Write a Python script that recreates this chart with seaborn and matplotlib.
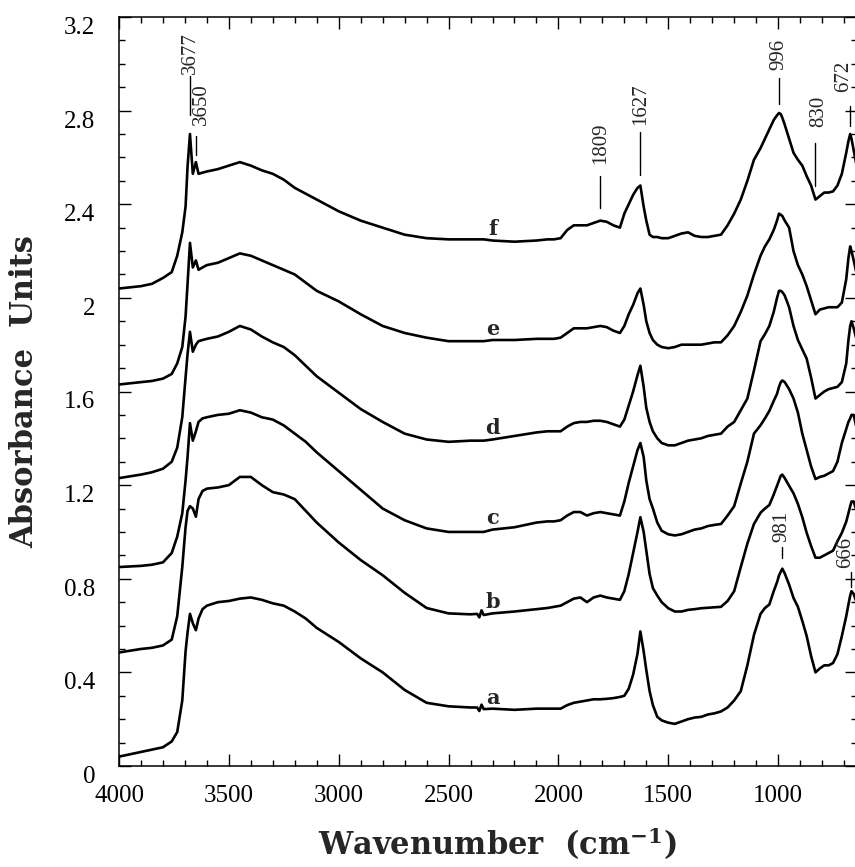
import numpy as np
import pandas as pd
import matplotlib
matplotlib.use("Agg")
import matplotlib.pyplot as plt
import seaborn as sns
from matplotlib.ticker import MultipleLocator

# Wavenumber grid (cm-1) shared by all spectra
wavenumber = [
    4000, 3900, 3850, 3800, 3760, 3735, 3712, 3697, 3688, 3677,
    3664, 3650, 3638, 3620, 3600, 3550, 3500, 3450, 3400, 3350,
    3300, 3250, 3200, 3150, 3100, 3000, 2900, 2800, 2700, 2600,
    2500, 2400, 2370, 2360, 2350, 2340, 2300, 2200, 2100, 2050,
    2020, 1990, 1960, 1930, 1900, 1870, 1840, 1809, 1780, 1750,
    1720, 1700, 1680, 1660, 1640, 1627, 1612, 1600, 1585, 1570,
    1550, 1530, 1500, 1470, 1440, 1410, 1380, 1350, 1320, 1290,
    1260, 1230, 1200, 1170, 1140, 1110, 1080, 1060, 1040, 1020,
    1005, 996, 988, 981, 970, 950, 930, 910, 890, 870,
    850, 830, 810, 790, 770, 750, 730, 710, 690, 680,
    672, 666, 656, 640,
]

spec_a = [
    0.04, 0.06, 0.07, 0.08, 0.105, 0.145, 0.28, 0.49, 0.57, 0.65,
    0.61, 0.58, 0.63, 0.67, 0.685, 0.70, 0.705, 0.715, 0.72, 0.71,
    0.695, 0.685, 0.66, 0.63, 0.59, 0.53, 0.46, 0.40, 0.325, 0.27,
    0.255, 0.25, 0.25, 0.235, 0.262, 0.243, 0.245, 0.24, 0.245, 0.245,
    0.245, 0.245, 0.26, 0.27, 0.275, 0.28, 0.285, 0.285, 0.287, 0.29,
    0.295, 0.30, 0.33, 0.39, 0.48, 0.575, 0.49, 0.41, 0.32, 0.26,
    0.21, 0.195, 0.185, 0.18, 0.19, 0.20, 0.207, 0.21, 0.22, 0.225,
    0.233, 0.25, 0.28, 0.32, 0.43, 0.56, 0.65, 0.675, 0.69, 0.747,
    0.785, 0.814, 0.83, 0.843, 0.823, 0.775, 0.718, 0.68, 0.62, 0.555,
    0.47, 0.40, 0.417, 0.43, 0.43, 0.44, 0.478, 0.555, 0.64, 0.69,
    0.728, 0.747, 0.735, 0.69,
]

spec_b = [
    0.485, 0.50, 0.505, 0.515, 0.54, 0.64, 0.85, 1.02, 1.09, 1.11,
    1.10, 1.065, 1.14, 1.175, 1.185, 1.19, 1.20, 1.235, 1.235, 1.20,
    1.17, 1.16, 1.14, 1.09, 1.04, 0.955, 0.88, 0.815, 0.74, 0.675,
    0.652, 0.648, 0.65, 0.635, 0.665, 0.645, 0.652, 0.66, 0.67, 0.675,
    0.68, 0.685, 0.70, 0.715, 0.72, 0.70, 0.72, 0.728, 0.72, 0.715,
    0.71, 0.747, 0.82, 0.91, 1.00, 1.063, 1.00, 0.92, 0.82, 0.76,
    0.728, 0.70, 0.674, 0.66, 0.66, 0.667, 0.67, 0.674, 0.676, 0.678,
    0.68, 0.705, 0.747, 0.85, 0.95, 1.034, 1.082, 1.10, 1.115, 1.16,
    1.197, 1.22, 1.24, 1.245, 1.23, 1.197, 1.165, 1.12, 1.063, 0.996,
    0.94, 0.89, 0.89, 0.90, 0.91, 0.92, 0.96, 0.996, 1.044, 1.08,
    1.11, 1.13, 1.13, 1.08,
]

spec_c = [
    0.85, 0.855, 0.86, 0.87, 0.91, 0.98, 1.08, 1.22, 1.32, 1.465,
    1.39, 1.43, 1.47, 1.485, 1.49, 1.50, 1.505, 1.52, 1.51, 1.49,
    1.48, 1.455, 1.42, 1.385, 1.34, 1.26, 1.18, 1.10, 1.05, 1.015,
    1.00, 1.00, 1.00, 1.00, 1.00, 1.00, 1.01, 1.02, 1.04, 1.045,
    1.045, 1.05, 1.07, 1.085, 1.085, 1.07, 1.08, 1.085, 1.08, 1.075,
    1.07, 1.13, 1.21, 1.28, 1.35, 1.38, 1.32, 1.22, 1.14, 1.10,
    1.04, 1.005, 0.99, 0.985, 0.99, 1.00, 1.01, 1.015, 1.025, 1.03,
    1.034, 1.07, 1.11, 1.207, 1.30, 1.42, 1.456, 1.485, 1.517, 1.56,
    1.59, 1.62, 1.64, 1.647, 1.64, 1.61, 1.57, 1.51, 1.42, 1.35,
    1.28, 1.226, 1.235, 1.24, 1.25, 1.26, 1.30, 1.38, 1.44, 1.47,
    1.485, 1.50, 1.50, 1.43,
]

spec_d = [
    1.23, 1.245, 1.255, 1.27, 1.30, 1.36, 1.49, 1.66, 1.76, 1.855,
    1.77, 1.80, 1.815, 1.82, 1.825, 1.835, 1.855, 1.88, 1.865, 1.835,
    1.81, 1.79, 1.755, 1.71, 1.665, 1.595, 1.525, 1.47, 1.42, 1.395,
    1.385, 1.39, 1.39, 1.39, 1.39, 1.39, 1.395, 1.41, 1.425, 1.43,
    1.43, 1.43, 1.45, 1.465, 1.47, 1.47, 1.475, 1.475, 1.47, 1.46,
    1.45, 1.48, 1.54, 1.60, 1.67, 1.71, 1.62, 1.53, 1.47, 1.43,
    1.40, 1.38, 1.37, 1.37, 1.38, 1.39, 1.395, 1.40, 1.41, 1.415,
    1.42, 1.45, 1.47, 1.52, 1.57, 1.69, 1.815, 1.845, 1.88, 1.94,
    2.00, 2.03, 2.03, 2.025, 2.01, 1.96, 1.88, 1.82, 1.78, 1.74,
    1.66, 1.57, 1.585, 1.60, 1.61, 1.615, 1.62, 1.64, 1.72, 1.82,
    1.88, 1.90, 1.87, 1.81,
]

spec_e = [
    1.63, 1.64, 1.645, 1.655, 1.675, 1.72, 1.79, 1.92, 2.06, 2.235,
    2.13, 2.16, 2.12, 2.13, 2.14, 2.15, 2.17, 2.19, 2.18, 2.16,
    2.14, 2.12, 2.10, 2.065, 2.03, 1.985, 1.93, 1.88, 1.85, 1.83,
    1.815, 1.815, 1.815, 1.815, 1.815, 1.815, 1.82, 1.82, 1.825, 1.825,
    1.825, 1.83, 1.85, 1.87, 1.87, 1.87, 1.875, 1.88, 1.875, 1.86,
    1.85, 1.88, 1.93, 1.97, 2.02, 2.04, 1.97, 1.90, 1.85, 1.82,
    1.80, 1.79, 1.785, 1.79, 1.80, 1.80, 1.80, 1.80, 1.805, 1.81,
    1.81, 1.84, 1.88, 1.94, 2.01, 2.10, 2.18, 2.22, 2.25, 2.29,
    2.33, 2.36, 2.355, 2.35, 2.33, 2.30, 2.20, 2.14, 2.10, 2.05,
    1.99, 1.93, 1.95, 1.955, 1.96, 1.96, 1.96, 1.98, 2.08, 2.17,
    2.22, 2.20, 2.16, 2.09,
]

spec_f = [
    2.04, 2.05, 2.06, 2.085, 2.11, 2.18, 2.28, 2.39, 2.56, 2.70,
    2.53, 2.58, 2.53, 2.535, 2.54, 2.55, 2.565, 2.58, 2.565, 2.545,
    2.53, 2.505, 2.47, 2.445, 2.42, 2.37, 2.33, 2.30, 2.27, 2.255,
    2.25, 2.25, 2.25, 2.25, 2.25, 2.25, 2.245, 2.24, 2.245, 2.25,
    2.25, 2.255, 2.29, 2.31, 2.31, 2.31, 2.32, 2.33, 2.325, 2.31,
    2.30, 2.36, 2.40, 2.44, 2.47, 2.48, 2.39, 2.33, 2.27, 2.26,
    2.26, 2.255, 2.255, 2.265, 2.275, 2.28, 2.265, 2.26, 2.26, 2.265,
    2.27, 2.31, 2.36, 2.42, 2.50, 2.59, 2.64, 2.68, 2.72, 2.76,
    2.78, 2.79, 2.785, 2.77, 2.74, 2.68, 2.62, 2.59, 2.565, 2.52,
    2.48, 2.42, 2.435, 2.45, 2.45, 2.455, 2.48, 2.53, 2.62, 2.67,
    2.70, 2.68, 2.63, 2.55,
]

sample_names = ["a", "b", "c", "d", "e", "f"]
spectra = [spec_a, spec_b, spec_c, spec_d, spec_e, spec_f]

# Band assignments: (label, wavenumber of line, line start, line end, text x, text bottom)
bands = [
    ("3677", 3677, 2.78, 2.95, 3677, 2.955),
    ("3650", 3650, 2.61, 2.69, 3627, 2.74),
    ("1809", 1809, 2.385, 2.52, 1809, 2.57),
    ("1627", 1627, 2.525, 2.71, 1627, 2.74),
    ("996", 996, 2.83, 2.94, 996, 2.975),
    ("830", 830, 2.48, 2.66, 816, 2.73),
    ("672", 674, 2.735, 2.82, 700, 2.88),
    ("981", 981, 0.89, 0.935, 985, 0.955),
    ("666", 668, 0.765, 0.83, 692, 0.845),
]

y_ticks = [0, 0.4, 0.8, 1.2, 1.6, 2.0, 2.4, 2.8, 3.2]
y_tick_labels = ["0", "0.4", "0.8", "1.2", "1.6", "2", "2.4", "2.8", "3.2"]
x_ticks = [4000, 3500, 3000, 2500, 2000, 1500, 1000]
x_tick_labels = ["4000", "3500", "3000", "2500", "2000", "1500", "1000"]

sns.set_style("ticks")
plt.rcParams["font.family"] = ["Liberation Serif", "DejaVu Serif"]
plt.rcParams["axes.linewidth"] = 1.1
plt.rcParams["mathtext.fontset"] = "dejavuserif"

W, H = 855, 867
fig = plt.figure(figsize=(W / 100, H / 100), dpi=100)
ax = fig.add_axes([119 / W, 101 / H, 738 / W, 749 / H])

df = pd.DataFrame({
    "wavenumber": np.tile(wavenumber, len(sample_names)),
    "absorbance": np.concatenate(spectra),
    "sample": np.repeat(sample_names, len(wavenumber)),
})

sns.lineplot(data=df, x="wavenumber", y="absorbance", hue="sample",
             palette={s: "black" for s in sample_names}, estimator=None,
             legend=False, linewidth=1.9, ax=ax)
for ln in ax.lines:
    ln.set_solid_joinstyle("round")
    ln.set_solid_capstyle("round")

ax.set_xlim(4000, 641)
ax.set_ylim(0, 3.2)
ax.set_xticks(x_ticks)
ax.set_xticklabels(x_tick_labels)
ax.xaxis.set_minor_locator(MultipleLocator(100))
ax.set_yticks(y_ticks)
ax.set_yticklabels(y_tick_labels, va="top")
ax.yaxis.set_minor_locator(MultipleLocator(0.1))
ax.tick_params(which="both", direction="in", top=True, right=True,
               width=1.0, colors="black")
ax.tick_params(which="major", length=8.5)
ax.tick_params(which="minor", length=4.5)
ax.tick_params(axis="x", labelsize=18, pad=14)
ax.tick_params(axis="y", labelsize=18, pad=17)
ax.set_xlabel("")
ax.set_ylabel("")
for sp in ax.spines.values():
    sp.set_color("black")

# Sample letters sitting just above each trace
label_x = 2300
idx = wavenumber.index(label_x)
for name, spec in zip(sample_names, spectra):
    ax.text(label_x, spec[idx] + 0.022, name, ha="center", va="baseline",
            fontsize=15, fontweight="bold", family="DejaVu Serif")

# Band position markers
for text, xl, y0, y1, xt, yt in bands:
    ax.plot([xl, xl], [y0, y1], color="black", lw=1.0)
    ax.text(xt, yt, text, rotation=90, ha="center", va="bottom",
            fontsize=15, family="Liberation Serif")

fig.text(25 / W, 1 - 392 / H, "Absorbance  Units", rotation=90,
         ha="center", va="center", fontsize=22, fontweight="bold",
         family="DejaVu Serif")
fig.text(497 / W, 1 - 844 / H, "Wavenumber  (cm$^{\\mathbf{-1}}$)",
         ha="center", va="center", fontsize=22, fontweight="bold",
         family="DejaVu Serif")

fig.savefig("out.png", dpi=100)
